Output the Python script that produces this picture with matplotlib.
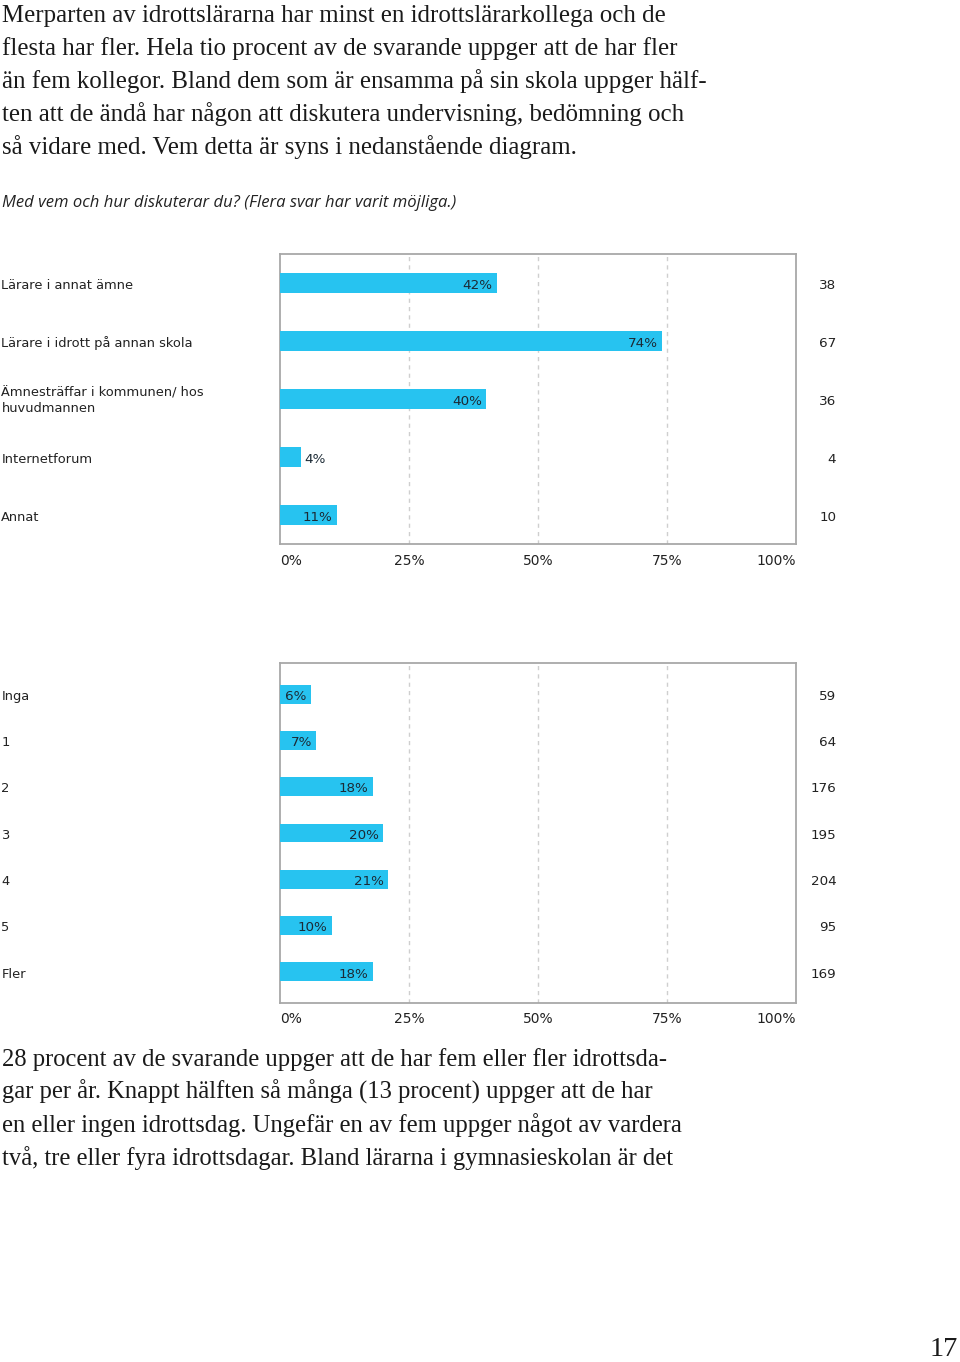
import matplotlib
matplotlib.use("Agg")
import matplotlib.pyplot as plt

W, H = 960, 1362

intro_lines = [
    "Merparten av idrottslärarna har minst en idrottslärarkollega och de",
    "flesta har fler. Hela tio procent av de svarande uppger att de har fler",
    "än fem kollegor. Bland dem som är ensamma på sin skola uppger hälf-",
    "ten att de ändå har någon att diskutera undervisning, bedömning och",
    "så vidare med. Vem detta är syns i nedanstående diagram.",
]
question = "Med vem och hur diskuterar du? (Flera svar har varit möjliga.)"

cat1 = ["Lärare i annat ämne", "Lärare i idrott på annan skola",
        "Ämnesträffar i kommunen/ hos\nhuvudmannen", "Internetforum", "Annat"]
pct1 = [42, 74, 40, 4, 11]
n1 = [38, 67, 36, 4, 10]

cat2 = ["Inga", "1", "2", "3", "4", "5", "Fler"]
pct2 = [6, 7, 18, 20, 21, 10, 18]
n2 = [59, 64, 176, 195, 204, 95, 169]

xticks = [0, 25, 50, 75, 100]
xticklabels = ["0%", "25%", "50%", "75%", "100%"]

outro_lines = [
    "28 procent av de svarande uppger att de har fem eller fler idrottsda-",
    "gar per år. Knappt hälften så många (13 procent) uppger att de har",
    "en eller ingen idrottsdag. Ungefär en av fem uppger något av vardera",
    "två, tre eller fyra idrottsdagar. Bland lärarna i gymnasieskolan är det",
]
page_no = "17"

BAR = "#27c3f0"
SERIF = "Liberation Serif"
SANS = "DejaVu Sans"

fig = plt.figure(figsize=(W / 100, H / 100), dpi=100)
fig.patch.set_facecolor("white")


def fx(px):
    return px / W


def fy(py):
    return 1 - py / H


for i, line in enumerate(intro_lines):
    fig.text(fx(2), fy(22 + 33 * i), line, family=SERIF, fontsize=17.9,
             color="#1a1a1a", va="baseline", ha="left")
fig.text(fx(2), fy(207), question, family="Open Sans", style="italic",
         fontsize=12, color="#222222", va="baseline", ha="left")
for i, line in enumerate(outro_lines):
    fig.text(fx(2), fy(1066 + 33 * i), line, family=SERIF, fontsize=17.7,
             color="#1a1a1a", va="baseline", ha="left")
fig.text(fx(958), fy(1356), page_no, family=SERIF, fontsize=20.5,
         color="#1a1a1a", va="baseline", ha="right")

DY = -1.5  # vertical nudge (points) of text relative to bar centres


def draw(top, bottom, cats, pct, counts, height, margin, tick_off):
    ax = fig.add_axes([fx(280), fy(bottom), fx(796) - fx(280), (bottom - top) / H])
    n = len(cats)
    y = list(range(n))
    ax.barh(y, pct, height=height, color=BAR, zorder=3)
    ax.set_xlim(0, 100)
    ax.set_ylim(n - 1 + margin, -margin)
    for g in xticks[1:-1]:
        ax.axvline(g, color="#cfcfcf", lw=1, ls=(0, (3, 3)), zorder=1)
    for s in ax.spines.values():
        s.set_color("#a8a8a8")
        s.set_linewidth(1.3)
    ax.set_xticks([])
    ax.set_yticks([])
    for yi, p, c, lab in zip(y, pct, counts, cats):
        if p >= 6:
            ax.annotate(f"{p}%", (p, yi), xytext=(-3, DY), textcoords="offset points",
                        ha="right", va="center", family=SANS, fontsize=9.7,
                        color="#1c2a35", zorder=4)
        else:
            ax.annotate(f"{p}%", (p, yi), xytext=(3, DY), textcoords="offset points",
                        ha="left", va="center", family=SANS, fontsize=9.7,
                        color="#1c2a35", zorder=4)
        ax.annotate(str(c), (100, yi), xytext=(29, DY), textcoords="offset points",
                    ha="right", va="center", family=SANS, fontsize=9.7,
                    color="#222222", annotation_clip=False)
        ax.annotate(lab, (0, yi), xycoords=("figure fraction", "data"),
                    xytext=(1.0, DY), textcoords="offset points",
                    ha="left", va="center", family=SANS, fontsize=9.4,
                    color="#222222", linespacing=1.25, annotation_clip=False)
    for t, tl in zip(xticks, xticklabels):
        ha = "left" if t == 0 else ("right" if t == 100 else "center")
        ax.annotate(tl, (t, n - 1 + margin), xytext=(0, tick_off), textcoords="offset points",
                    ha=ha, va="center", family=SANS, fontsize=10, color="#222222",
                    annotation_clip=False)
    return ax


draw(254, 544, cat1, pct1, n1, 0.34, 0.5, -12.5)
draw(663, 1003, cat2, pct2, n2, 0.41, 0.67, -11.5)

fig.savefig("out.png", dpi=100, facecolor="white")
